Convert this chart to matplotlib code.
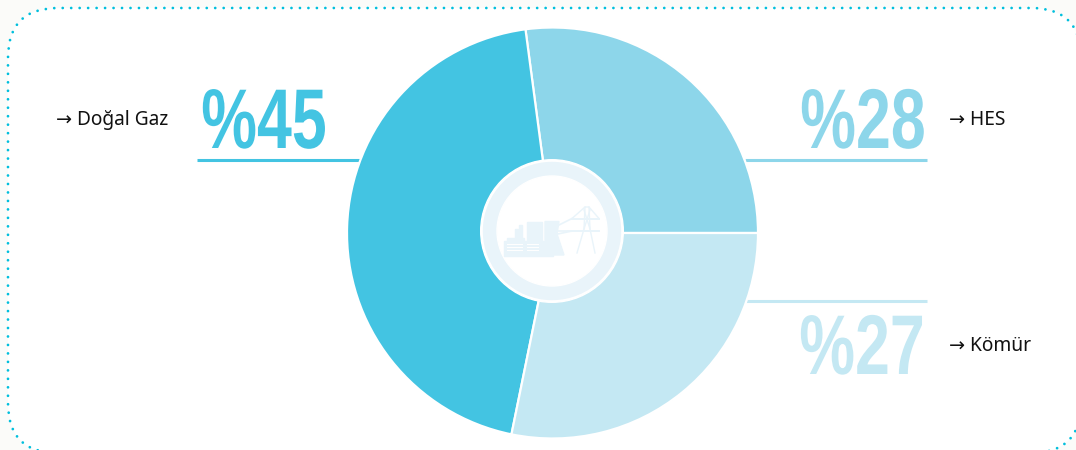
import matplotlib
matplotlib.use("Agg")
import matplotlib.pyplot as plt
from matplotlib.patches import Circle, FancyBboxPatch, Rectangle, Polygon
from matplotlib.patheffects import AbstractPathEffect
from matplotlib.transforms import Affine2D

#data
sources = ["HES", "Doğal Gaz", "Kömür"]
big_labels = ["%28", "%45", "%27"]
# slice sizes as they are drawn in the picture
shares = [27.1, 44.7, 28.2]
colors = ["#8DD6EA", "#43C4E2", "#C4E8F3"]

H = 450
def py(y):
    # picture y (from top) to axes y
    return H - y


# squeezes a text sideways, the big numbers are a condensed font
class Squeeze(AbstractPathEffect):
    def __init__(self, x0, sx):
        super().__init__()
        self.x0 = x0
        self.sx = sx

    def draw_path(self, renderer, gc, tpath, affine, rgbFace=None):
        t = affine + Affine2D().translate(-self.x0, 0).scale(self.sx, 1).translate(self.x0, 0)
        renderer.draw_path(gc, tpath, t, rgbFace)


fig = plt.figure(figsize=(10.76, 4.5), dpi=100, facecolor="#FBFBF9")
ax = fig.add_axes([0, 0, 1, 1])

#pie
ax.pie(shares, colors=colors, center=(552.5, py(233)), radius=205.5, startangle=0,
       counterclock=True, wedgeprops={"edgecolor": "white", "linewidth": 1.6, "zorder": 3})
ax.set_xlim(0, 1076)
ax.set_ylim(0, H)
ax.set_aspect("equal")
ax.axis("off")

#dotted frame
frame = FancyBboxPatch((58, py(403)), 973, 345, boxstyle="round,pad=50,rounding_size=50",
                       facecolor="white", edgecolor="#00BFDD", linewidth=2.0,
                       linestyle=(0, (0.01, 3.04)), capstyle="round", zorder=0)
ax.add_patch(frame)

#lines under the numbers
ax.plot([197, 360], [py(159.5)] * 2, color=colors[1], lw=2.2, zorder=2, solid_capstyle="butt")
ax.plot([745, 927], [py(159.5)] * 2, color=colors[0], lw=2.2, zorder=2, solid_capstyle="butt")
ax.plot([745, 927], [py(300.5)] * 2, color=colors[2], lw=2.2, zorder=2, solid_capstyle="butt")

#big numbers
big_font = ["Liberation Sans", "DejaVu Sans"]
for label, col, cx, base in [(big_labels[1], colors[1], 264, 148),
                             (big_labels[0], colors[0], 863, 148),
                             (big_labels[2], colors[2], 862, 374)]:
    ax.text(cx, py(base), label, color=col, fontsize=61, family=big_font, weight="bold",
            ha="center", va="baseline", zorder=4, path_effects=[Squeeze(cx, 0.74)])

#small labels
small_font = ["Noto Sans", "DejaVu Sans"]
ax.text(56, py(125), "→ " + sources[1], fontsize=13.8, family=small_font, color="#111111", va="baseline")
ax.text(949, py(125), "→ " + sources[0], fontsize=13.8, family=small_font, color="#111111", va="baseline")
ax.text(949, py(351), "→ " + sources[2], fontsize=13.8, family=small_font, color="#111111", va="baseline")

#center circle
ring = "#E9F4FA"
ax.add_patch(Circle((552, py(231)), 71.3, color="white", zorder=5))
ax.add_patch(Circle((552, py(231)), 68.5, color=ring, zorder=6))
ax.add_patch(Circle((552, py(231)), 55, color="white", zorder=7))

#power plant icon
ax.add_patch(Rectangle((504, py(255.5)), 49, 15, color=ring, zorder=8))
ax.add_patch(Rectangle((507, py(240.5)), 17, 3, color=ring, zorder=8))
ax.add_patch(Rectangle((515, py(240)), 2.5, 11, color=ring, zorder=8))
ax.add_patch(Rectangle((519, py(240)), 2.5, 15, color=ring, zorder=8))
ax.add_patch(Rectangle((527, py(240.5)), 14.5, 19, color=ring, zorder=8))
ax.add_patch(Polygon([(545, py(240.5)), (545, py(221.5)), (559, py(221.5)), (557, py(234)),
                      (564, py(255)), (553, py(255)), (553, py(240.5))], color=ring, zorder=8))
for y in [244, 247, 250]:
    ax.plot([507, 522], [py(y)] * 2, color="white", lw=0.7, zorder=9)
    ax.plot([527, 538], [py(y)] * 2, color="white", lw=0.7, zorder=9)

#pylon
ax.plot([577, 584, 585, 589, 590, 595], [py(253), py(229), py(207), py(207), py(229), py(253)],
        color=ring, lw=1.0, zorder=8)
ax.plot([572, 599], [py(218.5)] * 2, color=ring, lw=1.4, zorder=8)
ax.plot([572, 599], [py(231)] * 2, color=ring, lw=1.4, zorder=8)
ax.plot([584, 590], [py(210), py(229)], color=ring, lw=1, zorder=8)
ax.plot([590, 584], [py(210), py(229)], color=ring, lw=1, zorder=8)
ax.plot([572, 585], [py(218.5), py(207)], color=ring, lw=1, zorder=8)
ax.plot([599, 589], [py(218.5), py(207)], color=ring, lw=1, zorder=8)
ax.plot([572, 553], [py(218.5), py(228)], color=ring, lw=1.2, zorder=8)
ax.plot([572, 553], [py(231), py(231)], color=ring, lw=1.2, zorder=8)
ax.plot([572, 553], [py(231), py(235)], color=ring, lw=1.2, zorder=8)

fig.savefig("out.png", dpi=100, facecolor=fig.get_facecolor())
